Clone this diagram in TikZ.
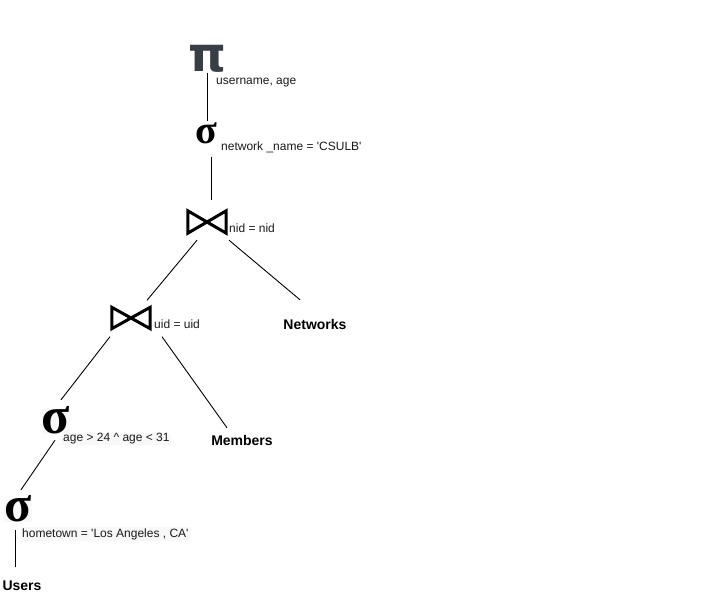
\documentclass[tikz,border=0pt]{standalone}
\usepackage{fontspec}
\setmainfont{Liberation Sans}
\newfontfamily\arialf{Liberation Sans}
\newfontfamily\timesf{Liberation Serif}
\newfontfamily\dejaf{DejaVu Sans}
\definecolor{pigray}{HTML}{373E45}
\definecolor{labbg}{HTML}{F8F8F8}
\definecolor{txt}{HTML}{1A1A1A}
\begin{document}
\begin{tikzpicture}[x=1pt,y=-1pt,
  lbl/.style={font={\arialf\fontsize{12}{14}\selectfont}, text=txt, anchor=west, inner sep=1pt},
  lblbg/.style={lbl, fill=labbg},
  relname/.style={font={\arialf\bfseries\fontsize{14}{16}\selectfont}, text=black, inner sep=1pt, text height=10pt, text depth=0pt},
  sig/.style={inner sep=0pt, text=black, text depth=0pt},
  bow/.style={draw, line width=3pt, line join=miter},
  edge/.style={draw, line width=0.9pt}]
\useasboundingbox (0,0) rectangle (706,601);

% operators
\node[inner sep=0pt, text=pigray, text height=27pt, text depth=0pt, font={\dejaf\bfseries\fontsize{48}{50}\selectfont}] (pi) at (207,58.5) {π};
\node[lbl] (piL) at (215,83) {username, age};

\node[sig, text height=19pt, font={\timesf\bfseries\fontsize{40}{42}\selectfont}] (s1) at (206,134) {σ};
\node[lbl] (s1L) at (220,147) {network \_name = 'CSULB'};

\node[minimum width=38pt, minimum height=22pt, inner sep=0pt] (j1) at (207,222) {};
\draw[bow] (j1.north west) -- (j1.south east) -- (j1.north east) -- (j1.south west) -- cycle;
\node[lbl] (j1L) at (228,228) {nid = nid};

\node[minimum width=38pt, minimum height=21pt, inner sep=0pt] (j2) at (131,318) {};
\draw[bow] (j2.north west) -- (j2.south east) -- (j2.north east) -- (j2.south west) -- cycle;
\node[lbl] (j2L) at (153,324) {uid = uid};

\node[sig, fill=labbg, text height=25pt, font={\timesf\bfseries\fontsize{52}{54}\selectfont}] (s2) at (56,421) {σ};
\node[lblbg] (s2L) at (62,439) {age > 24 \^{} age < 31};

\node[sig, fill=labbg, text height=23pt, font={\timesf\bfseries\fontsize{50}{52}\selectfont}] (s3) at (18,510) {σ};
\node[lblbg] (s3L) at (21,534) {hometown = 'Los Angeles , CA'};

% relations
\node[relname] (net) at (315,325) {Networks};
\node[relname] (mem) at (242,440) {Members};
\node[relname] (users) at (22,585) {Users};

% connectors
\draw[edge] ([xshift=0.5pt,yshift=-1pt]pi.south) -- ([xshift=1.5pt,yshift=3pt]s1.north);
\draw[edge] ([xshift=5.5pt,yshift=-13pt]s1.south) -- ([xshift=4.5pt,yshift=11pt]j1.north);
\draw[edge] ([xshift=-10pt,yshift=-7pt]j1.south) -- ([xshift=16pt,yshift=7pt]j2.north);
\draw[edge] ([xshift=22pt,yshift=-7pt]j1.south) -- ([xshift=-15pt,yshift=19pt]net.north);
\draw[edge] ([xshift=-21pt,yshift=-8pt]j2.south) -- ([xshift=5pt,yshift=8.5pt]s2.north);
\draw[edge] ([xshift=31pt,yshift=-8pt]j2.south) -- ([xshift=-15pt,yshift=6pt]mem.north);
\draw[edge] ([xshift=-1pt,yshift=-6.5pt]s2.south) -- ([xshift=3pt,yshift=8.5pt]s3.north);
\draw[edge] ([xshift=-2.5pt,yshift=-8.5pt]s3.south) -- ([xshift=-6.5pt,yshift=12pt]users.north);
\end{tikzpicture}
\end{document}
